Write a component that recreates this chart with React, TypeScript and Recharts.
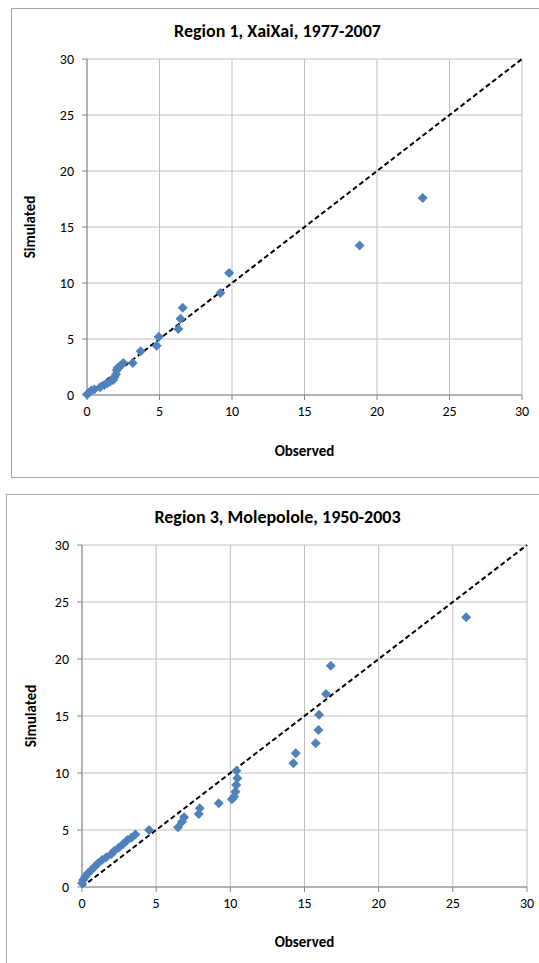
import { ScatterChart, Scatter, XAxis, YAxis, CartesianGrid, ReferenceLine } from 'recharts'

const AXIS_TICKS = [0, 5, 10, 15, 20, 25, 30]

// Region 1, XaiXai
const r1Observed = [0, 0.1, 0.3, 0.5, 0.9, 1.2, 1.4, 1.6, 1.8, 1.9, 2.0, 2.05, 2.1, 2.25, 2.5, 3.15, 3.7, 4.8, 4.95, 6.3, 6.45, 6.6, 9.2, 9.8, 18.8, 23.15]
const r1Simulated = [0.05, 0.15, 0.4, 0.5, 0.7, 0.9, 1.05, 1.2, 1.35, 1.6, 1.85, 2.2, 2.4, 2.55, 2.85, 2.85, 3.9, 4.4, 5.2, 5.9, 6.8, 7.8, 9.1, 10.9, 13.35, 17.6]

// Region 3, Molepolole
const r3Observed = [0, 0.07, 0.22, 0.4, 0.63, 0.85, 1.08, 1.35, 1.64, 1.98, 2.16, 2.47, 2.76, 3.06, 3.33, 3.6, 4.52, 6.47, 6.74, 6.88, 7.87, 7.94, 9.22, 10.11, 10.25, 10.34, 10.4, 10.47, 10.41, 14.25, 14.41, 15.76, 15.94, 15.98, 16.45, 16.77, 25.9]
const r3Simulated = [0.32, 0.61, 0.9, 1.2, 1.49, 1.78, 2.08, 2.37, 2.6, 2.89, 3.16, 3.45, 3.74, 4.12, 4.33, 4.61, 5.0, 5.24, 5.73, 6.11, 6.4, 6.9, 7.34, 7.69, 7.92, 8.36, 8.95, 9.53, 10.2, 10.85, 11.73, 12.6, 13.77, 15.11, 16.92, 19.41, 23.66]

// 1:1 line
const ONE_TO_ONE = [0, 30]

const FONT = 'Carlito, Lato, "Open Sans", sans-serif'

function Diamond(props: any) {
  const { cx, cy } = props
  if (cx == null || cy == null) return null
  const r = 5
  return <path d={`M${cx},${cy - r}L${cx + r},${cy}L${cx},${cy + r}L${cx - r},${cy}Z`} fill='#4f81bd' />
}

interface PanelProps {
  title: string
  observed: number[]
  simulated: number[]
  left: number
  top: number
  frameHeight: number
  chartHeight: number
  plotHeight: number
  marginRight: number
  yLabelOffset: number
  xLabelOffset: number
}

function Panel({ title, observed, simulated, left, top, frameHeight, chartHeight, plotHeight, marginRight, yLabelOffset, xLabelOffset }: PanelProps) {
  const data = observed.map((x, i) => ({ x, y: simulated[i] }))
  const labelStyle = { fontWeight: 'bold', fontSize: 15, fill: '#000' }
  return (
    <>
      <div
        style={{
          position: 'absolute',
          left,
          top,
          width: 600,
          height: frameHeight,
          border: '1px solid #a6a6a6',
          boxSizing: 'border-box',
        }}
      />
      <div
        style={{
          position: 'absolute',
          left: 0,
          width: 555,
          top: top + 12,
          textAlign: 'center',
          fontWeight: 'bold',
          fontSize: 18,
          lineHeight: '22px',
          color: '#000',
        }}
      >
        {title}
      </div>
      <div style={{ position: 'absolute', left, top }}>
        <ScatterChart width={540} height={chartHeight} margin={{ top: 51, right: marginRight, bottom: 0, left: 0 }}>
          <CartesianGrid stroke='#bfbfbf' strokeWidth={1} />
          <XAxis
            type='number'
            dataKey='x'
            domain={[0, 30]}
            ticks={AXIS_TICKS}
            interval={0}
            height={chartHeight - 51 - plotHeight}
            stroke='#868686'
            tickSize={5}
            tickMargin={6}
            tick={{ fill: '#000', fontSize: 14 }}
            label={{ value: 'Observed', position: 'insideBottom', offset: xLabelOffset, style: labelStyle }}
          />
          <YAxis
            type='number'
            dataKey='y'
            domain={[0, 30]}
            ticks={AXIS_TICKS}
            interval={0}
            width={76}
            stroke='#868686'
            tickSize={5}
            tickMargin={8}
            tick={{ fill: '#000', fontSize: 14 }}
            label={{ value: 'Simulated', angle: -90, position: 'insideLeft', offset: yLabelOffset, style: { ...labelStyle, textAnchor: 'middle' } }}
          />
          <Scatter data={data} shape={<Diamond />} isAnimationActive={false} />
          <ReferenceLine
            segment={[
              { x: ONE_TO_ONE[0], y: ONE_TO_ONE[0] },
              { x: ONE_TO_ONE[1], y: ONE_TO_ONE[1] },
            ]}
            stroke='#000'
            strokeWidth={2}
            strokeDasharray='5 3'
          />
        </ScatterChart>
      </div>
    </>
  )
}

export default function App() {
  return (
    <div
      style={{
        position: 'absolute',
        left: 0,
        top: 0,
        width: 539,
        height: 963,
        overflow: 'hidden',
        background: '#fff',
        fontFamily: FONT,
      }}
    >
      <Panel
        title='Region 1, XaiXai, 1977-2007'
        observed={r1Observed}
        simulated={r1Simulated}
        left={11}
        top={8}
        frameHeight={470}
        chartHeight={470}
        plotHeight={336}
        marginRight={29}
        yLabelOffset={19}
        xLabelOffset={22}
      />
      <Panel
        title='Region 3, Molepolole, 1950-2003'
        observed={r3Observed}
        simulated={r3Simulated}
        left={6}
        top={494}
        frameHeight={520}
        chartHeight={480}
        plotHeight={342}
        marginRight={19}
        yLabelOffset={25}
        xLabelOffset={27}
      />
    </div>
  )
}
